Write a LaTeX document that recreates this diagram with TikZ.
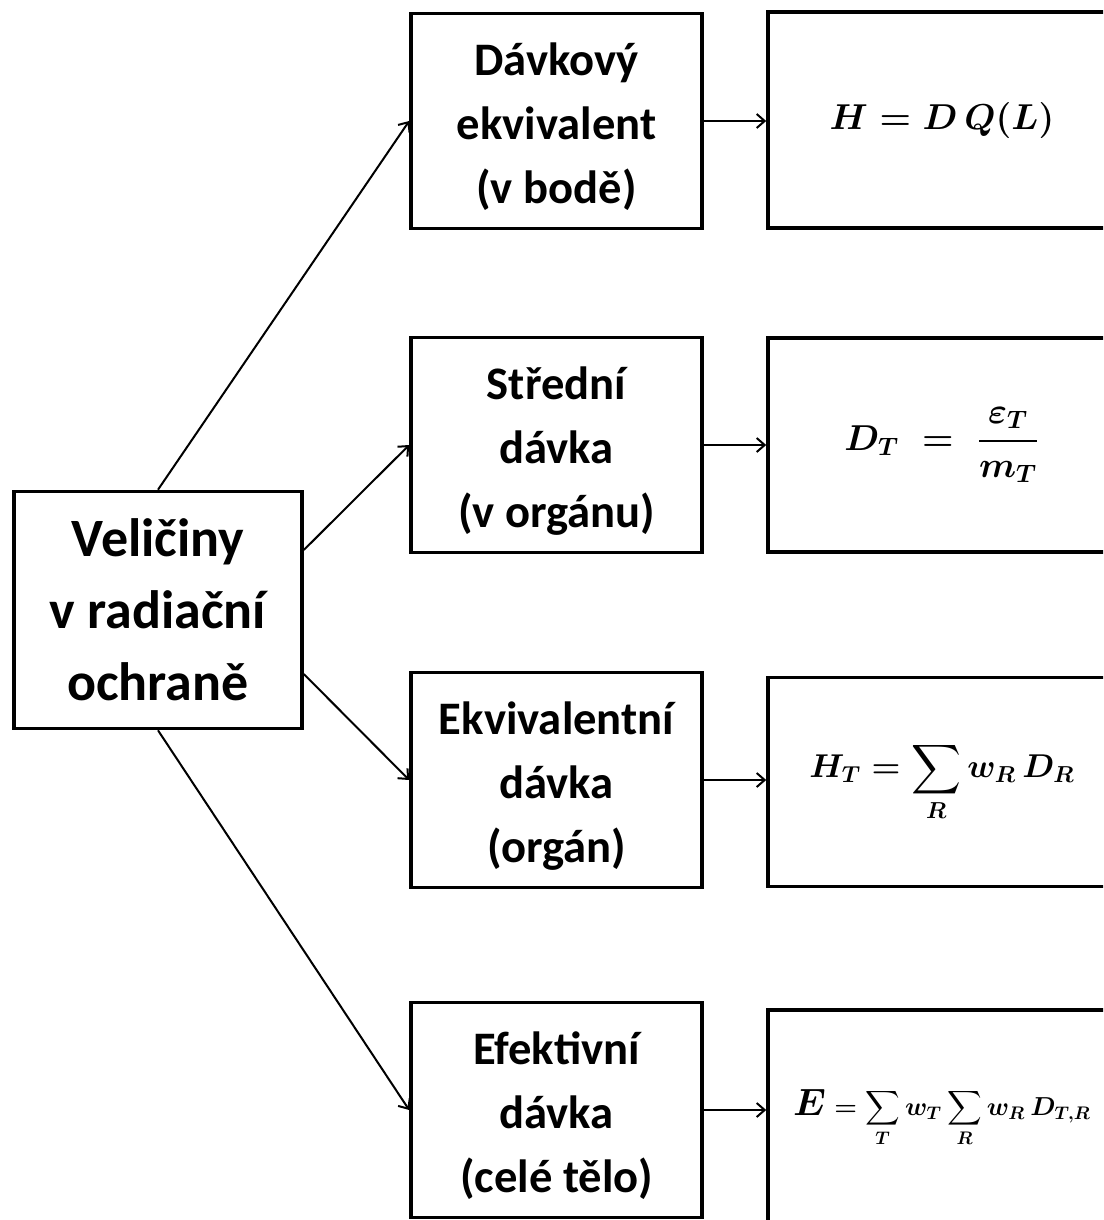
\documentclass[tikz,border=0pt]{standalone}
\usepackage{fix-cm}
\usepackage{amsmath}
\usepackage{fontspec}
\setmainfont{Carlito}
\usepackage{tikz}
\usetikzlibrary{arrows.meta}

\begin{document}
\begin{tikzpicture}[x=0.5pt, y=-0.5pt,
    box/.style={draw=black, line width=1.8pt, fill=white, align=center,
      inner sep=0pt},
    midbox/.style={box, minimum width=145.5pt, minimum height=107.5pt,
      font=\bfseries\fontsize{23.3}{32}\selectfont},
    formbox/.style={box, minimum width=174pt},
    link/.style={-{Straight Barb[length=4pt,width=7pt]}, line width=1pt}]
  \clip (0,0) rectangle (1103,1220);
  \fill[white] (0,0) rectangle (1103,1220);

  % Main box
  \node[box, minimum width=144pt, minimum height=118.5pt,
    font=\bfseries\fontsize{27}{36}\selectfont] (quant) at (158,610)
    {Veličiny\\v radiační\\ochraně};

  % Quantities
  \node[midbox] (q1) at (556.5,121) {\strut Dávkový\\ekvivalent\\(v bodě)};
  \node[midbox] (q2) at (556.5,445) {\strut Střední\\dávka\\(v orgánu)};
  \node[midbox] (q3) at (556.5,780) {\strut Ekvivalentní\\dávka\\(orgán)};
  \node[midbox] (q4) at (556.5,1110) {\strut Efektivní\\dávka\\(celé tělo)};

  % Formulas
  \node[formbox, minimum height=108pt, font=\fontsize{18}{22}\selectfont\boldmath]
    (f1) at (942,120) {$H = D\,Q(L)$};
  \node[formbox, minimum height=107pt, font=\fontsize{18}{22}\selectfont\boldmath]
    (f2) at (942,445) {$\displaystyle D_T \;=\; \frac{\varepsilon_T}{m_T}$};
  \node[formbox, minimum height=104.5pt, font=\fontsize{16.5}{20}\selectfont\boldmath]
    (f3) at (942,782) {$\displaystyle H_T = \sum_R w_R\,D_R$};
  \node[formbox, minimum height=108pt, font=\fontsize{13}{16}\selectfont\boldmath]
    (f4) at (942,1118)
    {$\displaystyle \text{\fontsize{19}{22}\selectfont$\boldsymbol{E}$} = \sum_T w_T \sum_R w_R\,D_{T,R}$};

  % Links
  \draw[link] (quant.north) -- (q1.west);
  \draw[link] ([yshift=30pt]quant.east) -- (q2.west);
  \draw[link] ([yshift=-32pt]quant.east) -- (q3.west);
  \draw[link] (quant.south) -- (q4.west);
  \foreach \i in {1,...,4}
    \draw[link] (q\i.east) -- (q\i.east -| f\i.west);
\end{tikzpicture}
\end{document}
